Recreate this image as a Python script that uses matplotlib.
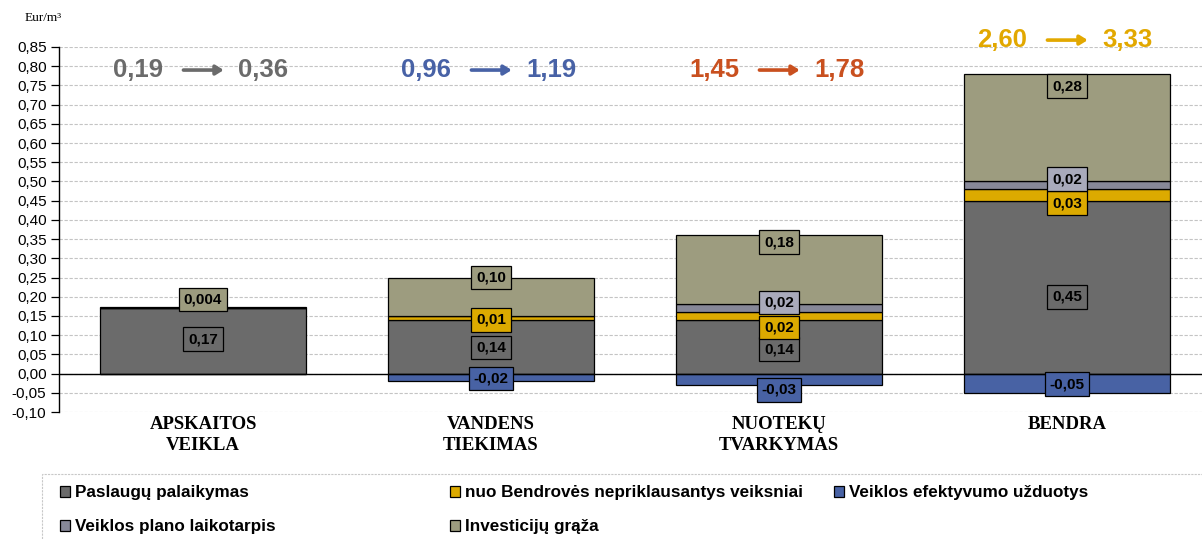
import matplotlib
matplotlib.use("Agg")
import matplotlib.pyplot as plt
from matplotlib.patches import Patch, Rectangle
import numpy as np

# ---------------- data ----------------
categories = ["APSKAITOS\nVEIKLA", "VANDENS\nTIEKIMAS", "NUOTEKŲ\nTVARKYMAS", "BENDRA"]
paslaugu = [0.17, 0.14, 0.14, 0.45]
nuo_bendroves = [0.0, 0.01, 0.02, 0.03]
efektyvumo = [0.0, -0.02, -0.03, -0.05]
plano = [0.0, 0.0, 0.02, 0.02]
investiciju = [0.004, 0.10, 0.18, 0.28]

lbl_paslaugu = ["0,17", "0,14", "0,14", "0,45"]
lbl_nuo = [None, "0,01", "0,02", "0,03"]
lbl_efekt = [None, "-0,02", "-0,03", "-0,05"]
lbl_plano = [None, None, "0,02", "0,02"]
lbl_invest = ["0,004", "0,10", "0,18", "0,28"]

price_before = ["0,19", "0,96", "1,45", "2,60"]
price_after = ["0,36", "1,19", "1,78", "3,33"]

series_names = ["Paslaugų palaikymas", "nuo Bendrovės nepriklausantys veiksniai",
                "Veiklos efektyvumo užduotys", "Veiklos plano laikotarpis", "Investicijų grąža"]

yticks = np.round(np.arange(-0.10, 0.851, 0.05), 2)

# ---------------- style ----------------
c_pasl = "#6b6b6b"
c_nuo = "#dcaa00"
c_efekt = "#4862a4"
c_plano = "#878898"
c_inv = "#9d9c7f"
c_plano_lbl = "#a9aabb"
price_colors = ["#6b6b6b", "#4862a6", "#c9501f", "#e2a800"]

# manual label heights (layout of annotation boxes)
ly_pasl = [0.089, 0.068, 0.063, 0.20]
ly_nuo = [None, 0.14, 0.12, 0.443]
ly_efekt = [None, -0.013, -0.042, -0.028]
ly_plano = [None, None, 0.185, 0.506]
ly_inv = [0.193, 0.25, 0.342, 0.748]
price_y = [0.79, 0.79, 0.79, 0.868]

sans = ["Liberation Sans", "DejaVu Sans"]
serif = ["Liberation Serif", "DejaVu Serif"]

W, H = 1202, 539
fig = plt.figure(figsize=(W / 100, H / 100), dpi=100)
ax = fig.add_axes([59 / W, 1 - 412 / H, (W - 59) / W, (412 - 47) / H])

x = np.arange(len(categories))
bw = 0.715
pasl = np.array(paslaugu)
nuo = np.array(nuo_bendroves)
pl = np.array(plano)
inv = np.array(investiciju)

kw = dict(width=bw, edgecolor="black", linewidth=0.9, zorder=3)
ax.bar(x, pasl, color=c_pasl, **kw)
ax.bar(x, nuo, bottom=pasl, color=c_nuo, **kw)
ax.bar(x, pl, bottom=pasl + nuo, color=c_plano, **kw)
ax.bar(x, inv, bottom=pasl + nuo + pl, color=c_inv, **kw)
ax.bar(x, efektyvumo, color=c_efekt, **kw)


def put_labels(labels, ys, fc):
    for i, (t, yy) in enumerate(zip(labels, ys)):
        if t is None or yy is None:
            continue
        ax.text(x[i], yy, t, ha="center", va="center", fontsize=11, fontweight="bold",
                family=sans, color="black", zorder=6,
                bbox=dict(boxstyle="square,pad=0.32", fc=fc, ec="black", lw=0.9))


put_labels(lbl_paslaugu, ly_pasl, c_pasl)
put_labels(lbl_nuo, ly_nuo, c_nuo)
put_labels(lbl_efekt, ly_efekt, c_efekt)
put_labels(lbl_plano, ly_plano, c_plano_lbl)
put_labels(lbl_invest, ly_inv, c_inv)

# price change annotations
for i in range(len(categories)):
    col = price_colors[i]
    yy = price_y[i]
    ax.text(x[i] - 0.225, yy, price_before[i], ha="center", va="center", fontsize=18.5,
            fontweight="bold", family=sans, color=col, zorder=6, clip_on=False)
    ax.text(x[i] + 0.21, yy, price_after[i], ha="center", va="center", fontsize=18.5,
            fontweight="bold", family=sans, color=col, zorder=6, clip_on=False)
    ax.annotate("", xy=(x[i] + 0.072, yy), xytext=(x[i] - 0.068, yy),
                arrowprops=dict(arrowstyle="-|>,head_length=0.45,head_width=0.28",
                                lw=2.6, color=col, shrinkA=0, shrinkB=0),
                annotation_clip=False, zorder=6)

# axes
ax.set_xlim(-0.5, (W - 59) / 288 - 0.5)
ax.set_ylim(-0.10, 0.85)
ax.set_yticks(yticks)
ax.set_yticklabels([f"{v:.2f}".replace(".", ",") for v in yticks], fontsize=11, family=sans)
ax.tick_params(axis="y", direction="out", length=6, width=0.9, pad=3, colors="black")
ax.set_xticks(x)
ax.set_xticklabels(categories, fontsize=13.5, fontweight="bold", family=serif, linespacing=1.3)
ax.tick_params(axis="x", length=0, pad=3)
for s in ["top", "right", "bottom"]:
    ax.spines[s].set_visible(False)
ax.spines["left"].set_linewidth(1.0)
ax.spines["left"].set_color("black")
ax.yaxis.grid(True, color="#c4c4c4", linestyle=(0, (3, 1.5)), linewidth=0.8, zorder=0)
ax.set_axisbelow(True)
ax.axhline(0, color="black", lw=1.0, zorder=4)

fig.text(25 / W, 1 - 18 / H, "Eur/m³", fontsize=9.5, family=serif, ha="left", va="center")

# legend box
fig.patches.append(Rectangle((42 / W, -0.05), 1.2, (H - 474) / H + 0.05, transform=fig.transFigure,
                             fill=False, ec="#c8c8c8", lw=0.8, ls=(0, (2, 1))))

legend_colors = [c_pasl, c_nuo, c_efekt, c_plano, c_inv]
legend_pos = [(60, 493), (450, 493), (834, 493), (60, 527), (450, 527)]
for name, col, (px, py) in zip(series_names, legend_colors, legend_pos):
    fig.legend(handles=[Patch(fc=col, ec="black", lw=0.9)], labels=[name],
               loc="center left", bbox_to_anchor=(px / W, 1 - py / H), frameon=False,
               borderpad=0, borderaxespad=0, handlelength=0.6, handleheight=0.6,
               handletextpad=0.3, prop=dict(family=sans, weight="bold", size=12.3))

fig.savefig("out.png", dpi=100)
